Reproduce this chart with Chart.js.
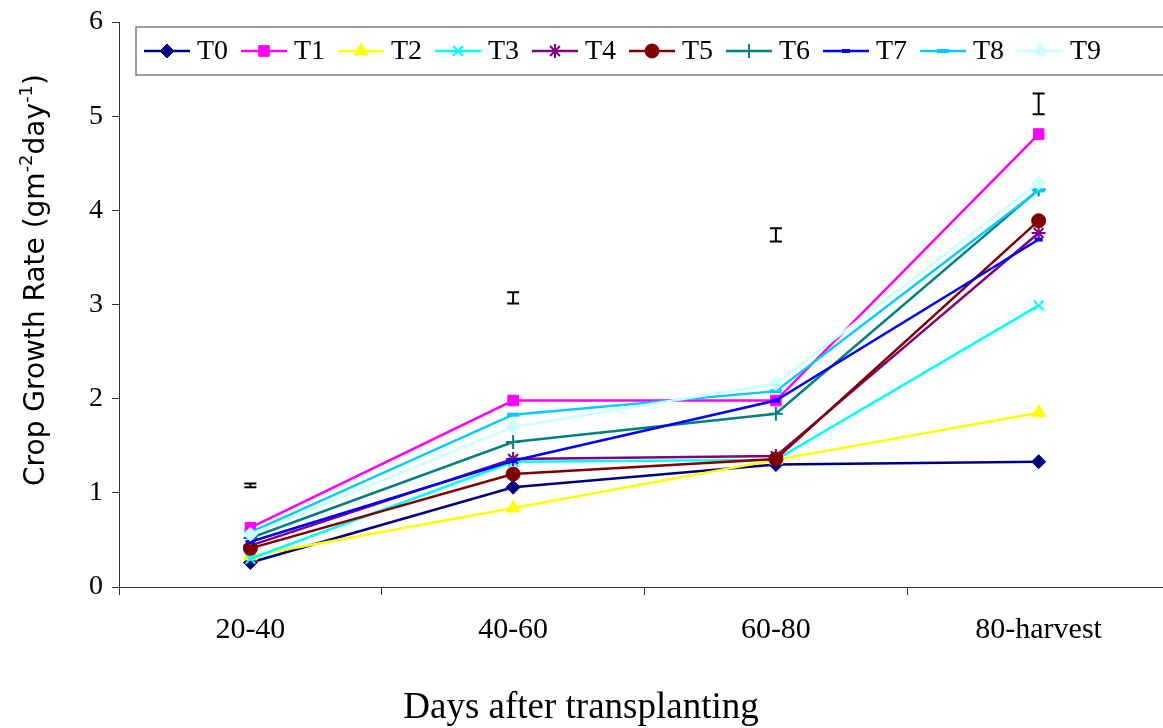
<!DOCTYPE html>
<html>
<head>
<meta charset="utf-8">
<script src="https://cdn.jsdelivr.net/npm/chart.js@4/dist/chart.umd.min.js"></script>
<style>
  html, body { margin: 0; padding: 0; background: #fff; overflow: hidden; }
  #wrap { width: 1180px; height: 728px; }
</style>
</head>
<body>
<div id="wrap"><canvas id="growthChart" width="1180" height="728"></canvas></div>
<script>
// categories on the x axis
const categories = ["20-40", "40-60", "60-80", "80-harvest"];

// crop growth rate per treatment
const T0 = [0.26, 1.06, 1.30, 1.33];
const T1 = [0.63, 1.98, 1.98, 4.81];
const T2 = [0.33, 0.84, 1.35, 1.85];
const T3 = [0.30, 1.33, 1.35, 2.99];
const T4 = [0.44, 1.36, 1.39, 3.76];
const T5 = [0.41, 1.20, 1.36, 3.89];
const T6 = [0.52, 1.54, 1.84, 4.22];
const T7 = [0.48, 1.34, 1.98, 3.69];
const T8 = [0.58, 1.83, 2.08, 4.21];
const T9 = [0.56, 1.70, 2.16, 4.29];

// LSD style bars floating above each period
const errCenter = [1.08, 3.07, 3.74, 5.13];
const errHalf = [0.02, 0.06, 0.07, 0.11];

const yTicks = [0, 1, 2, 3, 4, 5, 6];

const seriesNames = ["T0", "T1", "T2", "T3", "T4", "T5", "T6", "T7", "T8", "T9"];
const seriesData = [T0, T1, T2, T3, T4, T5, T6, T7, T8, T9];
const colors = ["#000080", "#ff00ff", "#ffff00", "#00ffff", "#800080",
                "#800000", "#008080", "#0000ff", "#00ccff", "#ccffff"];
const markers = [
  { style: "rectRot", r: 7, bw: 1 },
  { style: "rect", r: 7.5, bw: 1 },
  { style: "triangle", r: 8, bw: 1 },
  { style: "crossRot", r: 7, bw: 2 },
  { style: "star", r: 7, bw: 2 },
  { style: "circle", r: 7, bw: 1 },
  { style: "cross", r: 7, bw: 2 },
  { style: "line", r: 4, bw: 4 },
  { style: "line", r: 6, bw: 4 },
  { style: "rectRot", r: 7, bw: 1 }
];

const datasets = seriesNames.map((name, i) => ({
  label: name,
  data: seriesData[i],
  borderColor: colors[i],
  backgroundColor: colors[i],
  borderWidth: 2.5,
  pointStyle: markers[i].style,
  pointRadius: markers[i].r,
  pointBorderWidth: markers[i].bw,
  pointBackgroundColor: colors[i],
  pointBorderColor: colors[i],
  tension: 0,
  order: 9 - i
}));

// legend drawn like the spreadsheet one: line + marker + name
const legendBox = {
  id: "legendBox",
  afterDraw(chart) {
    const ctx = chart.ctx;
    const area = chart.chartArea;
    const left = area.left + 17, top = 27, h = 48;
    ctx.save();
    ctx.fillStyle = "#fff";
    ctx.fillRect(left, top, chart.width - left + 10, h);
    ctx.strokeStyle = "#7f7f7f";
    ctx.lineWidth = 1.5;
    ctx.strokeRect(left, top, chart.width - left + 10, h);
    const cy = top + h / 2;
    ctx.font = "28px 'Liberation Serif', 'Times New Roman', serif";
    ctx.textBaseline = "middle";
    seriesNames.forEach((name, i) => {
      const x0 = left + 8 + i * 97;
      ctx.strokeStyle = colors[i];
      ctx.lineWidth = 2.5;
      ctx.beginPath();
      ctx.moveTo(x0, cy);
      ctx.lineTo(x0 + 46, cy);
      ctx.stroke();
      ctx.fillStyle = colors[i];
      ctx.strokeStyle = colors[i];
      ctx.lineWidth = markers[i].bw;
      Chart.helpers.drawPoint(ctx, {
        pointStyle: markers[i].style,
        radius: markers[i].r,
        borderWidth: markers[i].bw,
        rotation: 0
      }, x0 + 23, cy);
      ctx.fillStyle = "#000";
      ctx.fillText(name, x0 + 53, cy + 1);
    });
    ctx.restore();
  }
};

// vertical error bars with caps
const errorBars = {
  id: "errorBars",
  afterDatasetsDraw(chart) {
    const ctx = chart.ctx;
    const xs = chart.scales.x, ys = chart.scales.y;
    ctx.save();
    ctx.strokeStyle = "#000";
    ctx.lineWidth = 2;
    errCenter.forEach((c, i) => {
      const x = xs.getPixelForValue(i);
      const yTop = ys.getPixelForValue(c + errHalf[i]);
      const yBot = ys.getPixelForValue(c - errHalf[i]);
      ctx.beginPath();
      ctx.moveTo(x, yTop); ctx.lineTo(x, yBot);
      ctx.moveTo(x - 6, yTop); ctx.lineTo(x + 6, yTop);
      ctx.moveTo(x - 6, yBot); ctx.lineTo(x + 6, yBot);
      ctx.stroke();
    });
    ctx.restore();
  }
};

// axis titles (y title has superscripts)
const axisTitles = {
  id: "axisTitles",
  afterDraw(chart) {
    const ctx = chart.ctx;
    ctx.save();
    ctx.fillStyle = "#000";
    ctx.font = "37px 'Liberation Serif', 'Times New Roman', serif";
    ctx.textAlign = "center";
    ctx.textBaseline = "middle";
    ctx.fillText("Days after transplanting", 581, 708);

    const parts = [
      ["Crop Growth Rate (gm", false], ["-2", true], ["day", false], ["-1", true], [")", false]
    ];
    const big = "28px 'DejaVu Sans', sans-serif";
    const small = "18px 'DejaVu Sans', sans-serif";
    let total = 0;
    parts.forEach(p => { ctx.font = p[1] ? small : big; total += ctx.measureText(p[0]).width; });
    ctx.translate(34, 280);
    ctx.rotate(-Math.PI / 2);
    ctx.textAlign = "left";
    ctx.textBaseline = "alphabetic";
    let x = -total / 2;
    parts.forEach(p => {
      ctx.font = p[1] ? small : big;
      ctx.fillText(p[0], x, p[1] ? -2 : 10);
      x += ctx.measureText(p[0]).width;
    });
    ctx.restore();
  }
};

new Chart(document.getElementById("growthChart"), {
  type: "line",
  data: { labels: categories, datasets: datasets },
  plugins: [errorBars, legendBox, axisTitles],
  options: {
    responsive: false,
    animation: false,
    layout: { padding: { top: 22, left: 0, right: 0, bottom: 0 } },
    plugins: {
      legend: { display: false },
      tooltip: { enabled: false }
    },
    scales: {
      x: {
        offset: true,
        afterFit: (s) => { s.height = 141; },
        grid: {
          offset: true,
          drawOnChartArea: false,
          drawTicks: true,
          tickLength: 8,
          color: "#333"
        },
        border: { color: "#333", width: 1 },
        ticks: {
          color: "#000",
          padding: 17,
          maxRotation: 0,
          font: { family: "'Liberation Serif', 'Times New Roman', serif", size: 30 }
        }
      },
      y: {
        min: 0,
        max: 6,
        afterFit: (s) => { s.width = 119; },
        afterBuildTicks: (s) => { s.ticks = yTicks.map(v => ({ value: v })); },
        grid: {
          drawOnChartArea: false,
          drawTicks: true,
          tickLength: 7,
          color: "#333"
        },
        border: { color: "#333", width: 1 },
        ticks: {
          color: "#000",
          padding: 9,
          font: { family: "'Liberation Serif', 'Times New Roman', serif", size: 28, lineHeight: 0.9 }
        }
      }
    }
  }
});
</script>
</body>
</html>
